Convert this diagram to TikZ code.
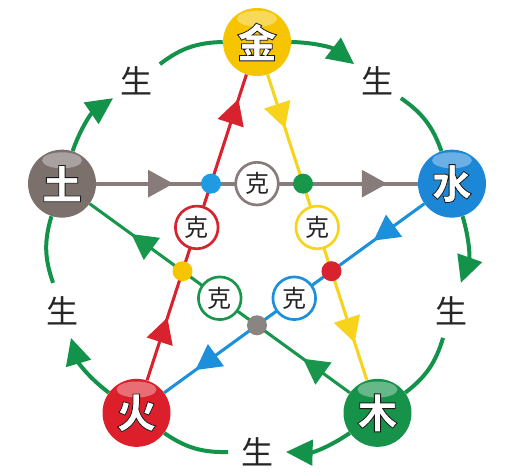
\documentclass[tikz,border=0pt]{standalone}
\usepackage{fontspec}
\newfontfamily\cjk{Noto Sans CJK SC}
\usetikzlibrary{arrows.meta, decorations.markings}
\definecolor{JinColor}{HTML}{F6C500}
\definecolor{ShuiColor}{HTML}{1B87D6}
\definecolor{MuColor}{HTML}{16924A}
\definecolor{HuoColor}{HTML}{DC1F2A}
\definecolor{TuColor}{HTML}{7C706C}
\definecolor{ShengColor}{HTML}{13924A}
\definecolor{JinLine}{HTML}{F8D31C}
\definecolor{ShuiLine}{HTML}{1C90DA}
\definecolor{MuLine}{HTML}{17964C}
\definecolor{HuoLine}{HTML}{D8222D}
\definecolor{TuLine}{HTML}{877C79}
\definecolor{DotBlue}{HTML}{1E9BE2}
\definecolor{DotGray}{HTML}{8A8483}
% white letters with a dark outline
\newcommand\outl[1]{\special{pdf:literal direct 2 Tr 0.6 w 0.1 G}#1\special{pdf:literal direct 0 Tr}}

\begin{document}
\begin{tikzpicture} [
    x=0.75pt, y=0.75pt,
    E/.style = {circle, minimum size=51pt, inner sep=0pt, fill=#1, text=white,
                font=\cjk\bfseries\fontsize{30}{30}\selectfont,
                path picture={\fill[white, opacity=0.35] ([yshift=-8pt]path picture bounding box.north) ellipse (15pt and 6pt);}},
    S/.style = {circle, minimum size=43pt, inner sep=0pt, text=black!85,
                font=\cjk\fontsize{24}{24}\selectfont},
    K/.style = {circle, draw=#1, line width=2pt, fill=white, minimum size=32pt, inner sep=0pt,
                text=black!85, font=\cjk\fontsize{18}{18}\selectfont},
    D/.style = {circle, fill=#1, minimum size=15pt, inner sep=0pt},
    sheng/.style = {draw=ShengColor, line width=3pt, bend left=18},
    ke/.style n args = {3}{draw=#1, line width=2.3pt, postaction={decorate},
        decoration={markings,
          mark=at position #2 with {\arrow[#1]{Triangle[length=19pt,width=20pt]}},
          mark=at position #3 with {\arrow[#1]{Triangle[length=19pt,width=20pt]}}}}
    ]
  \useasboundingbox (-257,-227) rectangle (259,247);

  %%% ELEMENTS %%%
  \node[E=JinColor]  (jin)  at (90:205)   {\outl{金}};
  \node[E=ShuiColor] (shui) at (18:205)   {\outl{水}};
  \node[E=MuColor]   (mu)   at (-54:205)  {\outl{木}};
  \node[E=HuoColor]  (huo)  at (-126:205) {\outl{火}};
  \node[E=TuColor]   (tu)   at (162:205)  {\outl{土}};

  %%% SHENG labels %%%
  \node[S] (tujin)   at (126:205) {生};
  \node[S] (jinshui) at (54:205)  {生};
  \node[S] (shuimu)  at (-18:205) {生};
  \node[S] (muhuo)   at (-90:205) {生};
  \node[S] (huotu)   at (198:205) {生};

  % Sheng cycle
  \draw[sheng, -{Triangle[length=20pt,width=19pt]}] (tu) to (tujin);
  \draw[sheng] (tujin) to (jin);
  \draw[sheng, -{Triangle[length=20pt,width=19pt]}] (jin) to (jinshui);
  \draw[sheng] (jinshui) to (shui);
  \draw[sheng, -{Triangle[length=20pt,width=19pt]}] (shui) to (shuimu);
  \draw[sheng] (shuimu) to (mu);
  \draw[sheng, -{Triangle[length=20pt,width=19pt]}] (mu) to (muhuo);
  \draw[sheng] (muhuo) to (huo);
  \draw[sheng, -{Triangle[length=20pt,width=19pt]}] (huo) to (huotu);
  \draw[sheng] (huotu) to (tu);

  % Ke star
  \draw[ke={TuLine}{0.24}{0.905}, line width=3pt] (tu) -- (shui) node[K=TuLine, midway] (ketu) {克};
  \draw[ke={JinLine}{0.176}{0.877}] (jin) -- (mu) node[K=JinLine, midway] (kejin) {克};
  \draw[ke={ShuiLine}{0.195}{0.88}] (shui) -- (huo) node[K=ShuiLine, midway] (keshui) {克};
  \draw[ke={MuLine}{0.18}{0.84}] (mu) -- (tu) node[K=MuLine, midway] (kemu) {克};
  \draw[ke={HuoLine}{0.205}{0.92}] (huo) -- (jin) node[K=HuoLine, midway] (kehuo) {克};

  % crossing dots
  \node[D=DotBlue]  (dtuhuo)   at (intersection of tu--shui and huo--jin) {};
  \node[D=MuLine]   (dtujin)   at (intersection of tu--shui and jin--mu) {};
  \node[D=HuoLine]  (djinshui) at (intersection of jin--mu and shui--huo) {};
  \node[D=DotGray]  (dshuimu)  at (intersection of shui--huo and mu--tu) {};
  \node[D=JinColor] (dmuhuo)   at (intersection of mu--tu and huo--jin) {};

\end{tikzpicture}
\end{document}
